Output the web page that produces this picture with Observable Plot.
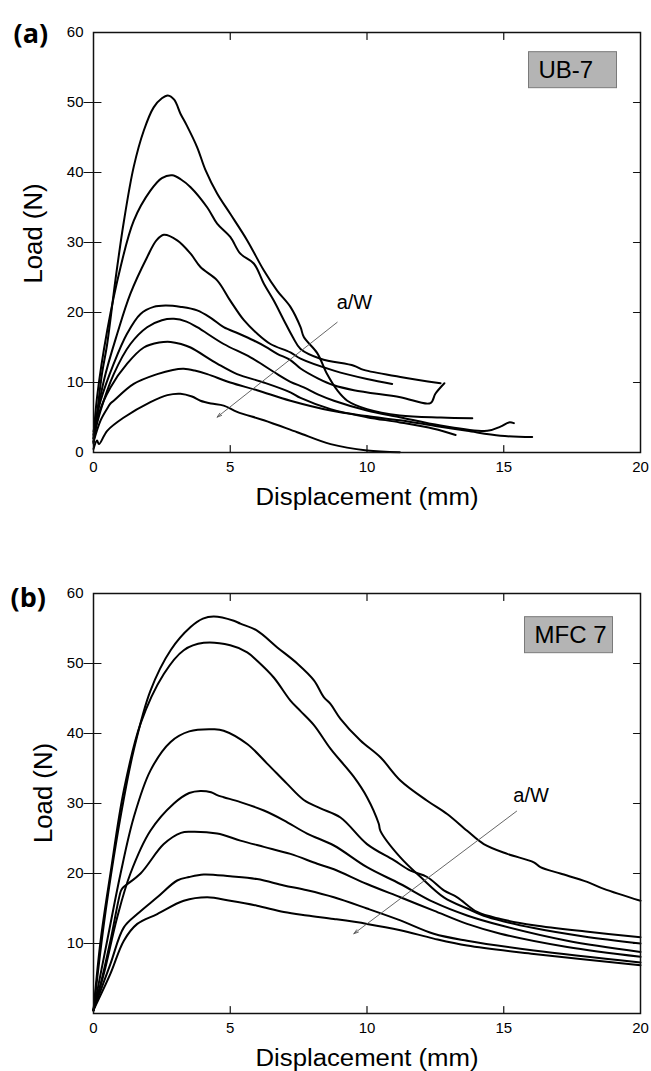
<!DOCTYPE html>
<html><head><meta charset="utf-8">
<script src="https://cdn.jsdelivr.net/npm/d3@7"></script>
<script src="https://cdn.jsdelivr.net/npm/@observablehq/plot@0.6"></script>
<style>
body{margin:0;background:#fff;}
#chart{width:651px;}
svg{display:block;}
</style></head><body><div id="chart"></div>
<script>
// ---- axis ticks ----
const xTicks = [0, 5, 10, 15, 20];
const xInnerTicks = [5, 10, 15];
const yTicksA = [0, 10, 20, 30, 40, 50, 60];
const yTicksB = [10, 20, 30, 40, 50, 60];
const yInnerTicks = [10, 20, 30, 40, 50];

// ---- texts ----
const xTitle = "Displacement (mm)";
const yTitle = "Load (N)";
const tagA = "(a)", tagB = "(b)";
const boxA = "UB-7", boxB = "MFC 7";

// ---- annotations (data units) ----
const awA = [{x: 9.54, y: 21.4, text: "a/W"}];
const awB = [{x: 16.0, y: 31.1, text: "a/W"}];
const arrowA = [{x1: 8.91, y1: 18.6, x2: 4.52, y2: 5.05}];
const arrowB = [{x1: 15.47, y1: 28.9, x2: 9.52, y2: 11.4}];

// ---- panel (a) UB-7 curves: [displacement mm, load N] ----
const ub1 = [[0,1.3],[0.13,5.5],[0.3,11],[0.5,15.5],[0.8,24.6],[1.11,33],[1.47,40.8],[1.84,46],[2.2,49.3],[2.5,50.6],[2.72,51.0],[2.95,50.4],[3.18,48.4],[3.4,46.8],[3.79,43.6],[4.1,40.3],[4.52,37],[5.0,34.1],[5.62,30.3],[6.23,26],[6.72,23.1],[7.2,20.8],[7.57,17.9],[7.69,16.5],[8.18,14.2],[8.54,11.2],[8.91,8.9],[9.28,7.4],[10.0,6.2],[11.2,5.3],[12.7,5.0],[13.85,4.9]];
const ub2 = [[0,2],[0.13,7.9],[0.5,17.4],[0.99,26.5],[1.47,33.1],[2.08,37.4],[2.5,39.2],[2.88,39.6],[3.2,39.0],[3.55,37.9],[4.16,35],[4.52,32.7],[5.0,30.8],[5.37,28.4],[5.86,27],[6.23,24.1],[6.59,21.7],[6.96,18.9],[7.3,16.4],[7.57,14.8],[8.3,13.4],[9.52,12.4],[9.88,11.8],[11.22,10.8],[12.69,9.9]];
const ub3 = [[0,2.5],[0.38,10.3],[0.87,17],[1.35,22.7],[1.96,27.9],[2.3,30.3],[2.57,31.1],[3.06,30.3],[3.55,28.4],[3.91,26.5],[4.52,24.6],[5.0,21.7],[5.5,18.9],[5.98,17.0],[6.47,15.5],[7.2,14.3],[7.57,13.4],[8.79,11.7],[10.0,10.5],[10.92,9.8]];
const ub4 = [[0,3],[0.26,7.4],[0.74,12.7],[1.23,17],[1.72,19.8],[2.2,20.8],[2.63,21.0],[3.2,20.8],[3.79,20.3],[4.3,19.2],[4.76,17.9],[5.3,17.0],[5.86,16.0],[6.3,15.1],[6.72,14.1],[7.2,13.2],[7.57,12.0],[8.2,10.6],[8.79,9.6],[9.52,8.9],[11.22,7.9],[12.32,7.05],[12.5,8.4],[12.83,9.9]];
const ub5 = [[0,2],[0.26,6.0],[0.74,11.2],[1.35,15.5],[1.96,17.9],[2.5,18.9],[2.94,19.1],[3.4,18.7],[3.79,17.9],[4.76,15.5],[5.74,13.6],[6.72,11.2],[7.2,10.1],[7.69,9.3],[8.2,8.3],[8.79,7.4],[10.0,6.0],[11.2,5.05],[12.69,3.86],[14.4,3.1],[14.88,3.7],[15.19,4.3],[15.37,4.2]];
const ub6 = [[0,1.5],[0.19,5.5],[0.62,9.3],[1.23,12.7],[1.84,15.0],[2.4,15.7],[2.82,15.8],[3.2,15.5],[3.55,15.0],[4.52,12.7],[5.25,11.2],[6.23,10.0],[7.2,8.6],[7.57,7.8],[8.67,6.2],[10.0,5.05],[11.2,4.3],[12.44,3.38],[13.24,2.5]];
const ub7 = [[0,1.5],[0.26,4.6],[0.55,6.6],[0.62,7.0],[0.74,7.4],[1.47,9.8],[2.33,11.2],[2.9,11.8],[3.3,11.95],[3.7,11.7],[4.16,11.2],[5.0,10.0],[5.98,8.9],[7.2,7.4],[8.67,6.0],[10.0,5.2],[11.2,4.6],[12.5,3.8],[13.66,3.1],[14.88,2.4],[16.04,2.2]];
const ub8 = [[0,0.5],[0.13,1.7],[0.2,1.2],[0.5,3.1],[1.11,5.0],[2.08,7.2],[2.7,8.2],[3.18,8.4],[3.6,8.0],[3.91,7.4],[4.3,7.0],[4.76,6.7],[5.25,5.8],[6.23,4.6],[7.45,2.9],[8.67,1.2],[10.0,0.3],[11.2,0.05]];

// ---- panel (b) MFC 7 curves ----
const mfc1 = [[0,0.4],[0.38,12.8],[0.74,22.3],[1.1,30.5],[1.47,37.6],[2.08,46.1],[2.82,51.9],[3.55,55.2],[4.0,56.4],[4.4,56.7],[5.13,56.1],[5.37,55.7],[5.98,54.7],[6.72,52.3],[7.45,50],[8.06,47.6],[8.42,45.2],[8.67,44.2],[9.03,42.1],[9.76,39],[10.49,36.6],[11.22,33.3],[12.2,30.4],[12.93,28.5],[13.66,26.1],[14.27,24.2],[15.13,22.8],[16.1,21.6],[16.34,20.9],[17.07,20],[18.05,18.8],[18.66,17.8],[20,16.1]];
const mfc2 = [[0,0.4],[0.26,10.4],[0.62,20],[1.11,31.9],[1.72,41.4],[2.57,48.5],[3.3,51.9],[4.03,52.95],[5.0,52.6],[5.62,51.6],[5.98,50.4],[6.59,48.0],[7.2,44.7],[7.57,43.2],[8.06,41.2],[8.67,37.8],[9.52,33.8],[10.0,30.9],[10.43,27.1],[10.49,26.1],[11.22,22.3],[11.96,19.5],[12.81,16.6],[13.66,15.0],[14.39,13.8],[16.1,12.2],[17.93,11.0],[20,10.0]];
const mfc3 = [[0,0.5],[0.5,10.4],[0.99,20],[1.47,28],[2.08,34.7],[2.82,38.8],[3.5,40.3],[4.4,40.6],[4.76,40.4],[5.62,38.5],[6.35,35.7],[7.08,32.8],[7.69,30.5],[8.3,29.3],[9.03,28],[10.0,24.2],[10.98,21.9],[11.59,20.4],[12.2,19.5],[12.81,17.6],[13.3,16.6],[14.03,14.5],[14.88,13.5],[16.1,12.6],[18,11.7],[20,10.9]];
const mfc4 = [[0,0.5],[0.38,5.7],[0.87,13.8],[1.35,20],[2.08,26.1],[2.94,30],[3.5,31.5],[3.91,31.8],[4.3,31.6],[4.52,31.2],[4.76,30.9],[5.37,30.2],[6.23,29],[6.96,27.6],[7.81,25.7],[8.79,24.0],[10.0,20.9],[11.22,18.5],[12.44,15.9],[13.66,14.0],[14.88,12.6],[17.32,10.4],[20,8.8]];
const mfc5 = [[0,0.5],[0.26,4.2],[0.62,10.4],[1.0,17.5],[1.06,17.9],[1.72,20],[2.57,24.2],[3.2,25.8],[3.55,25.95],[4.52,25.7],[5.37,24.7],[6.23,23.8],[7.2,22.8],[8.18,21.4],[8.79,20.6],[10.0,18.5],[11.22,16.6],[12.44,14.7],[13.66,12.8],[14.88,11.4],[17.32,9.5],[20,8.1]];
const mfc6 = [[0,0.5],[0.62,7.1],[1.11,12.3],[1.6,14.2],[2.33,16.6],[3.06,19],[3.5,19.5],[4.03,19.86],[5.0,19.6],[5.98,19.2],[6.96,18.3],[7.81,17.6],[8.79,16.6],[10.0,15.0],[11.22,13.3],[12.44,11.4],[13.66,10.4],[16.1,9.0],[20,7.3]];
const mfc7 = [[0,0.5],[0.62,5.7],[1.11,10.4],[1.6,12.8],[2.33,14.2],[3.3,16.1],[4.16,16.6],[5.0,16.1],[5.98,15.4],[6.96,14.5],[7.81,14.0],[8.79,13.5],[10.0,12.8],[11.22,11.9],[12.44,10.7],[13.66,9.7],[16.1,8.5],[20,6.9]];

// ---- build tables ----
const rows = (list) => list.flatMap((arr, i) => arr.map(([d, L]) => ({d, L, id: i})));
const rowsA = rows([ub1, ub2, ub3, ub4, ub5, ub6, ub7, ub8]);
const rowsB = rows([mfc1, mfc2, mfc3, mfc4, mfc5, mfc6, mfc7]);

const tickShape = {draw(context, l) { context.moveTo(0, 0); context.lineTo(0, -l); }};
const FONT = "'Liberation Sans', Arial, sans-serif";

function panel(o) {
  const tk = {stroke: "#111", strokeWidth: 1.2, shape: tickShape};
  return Plot.plot({
    width: 651, height: o.height,
    marginLeft: 93, marginRight: 11, marginTop: o.mt, marginBottom: o.mb,
    x: {domain: [0, 20]}, y: {domain: [0, 60]},
    style: {fontFamily: FONT, fontSize: "15px", color: "#000", background: "#fff", overflow: "visible"},
    marks: [
      Plot.axisX(xTicks, {tickSize: 0, tickPadding: 9, label: null, fontSize: 15}),
      Plot.axisY(o.yTicks, {tickSize: 0, tickPadding: 10, label: null, fontSize: 15}),
      Plot.vector(xInnerTicks, {...tk, x: d => d, y: 0, length: 7, rotate: 0, anchor: "start"}),
      Plot.vector(xInnerTicks, {...tk, x: d => d, y: 60, length: 7, rotate: 180, anchor: "start"}),
      Plot.vector(yInnerTicks, {...tk, x: 20, y: d => d, length: 7, rotate: 270, anchor: "start"}),
      Plot.vector(yInnerTicks, {...tk, x: 0, y: d => d, length: 17, rotate: 90, anchor: "middle", dx: -1}),
      Plot.line(o.rows, {x: "d", y: "L", z: "id", curve: "catmull-rom", stroke: "#000", strokeWidth: 2}),
      Plot.arrow(o.arrow, {x1: "x1", y1: "y1", x2: "x2", y2: "y2", stroke: "#555", strokeWidth: 0.9, headLength: 8, headAngle: 35}),
      Plot.text(o.aw, {x: "x", y: "y", text: "text", fontSize: 20}),
      Plot.frame({stroke: "#111", strokeWidth: 1.5}),
      Plot.text([xTitle], {text: d => d, frameAnchor: "bottom", lineAnchor: "top", dy: o.xtDy, fontSize: 23.5}),
      Plot.text([yTitle], {text: d => d, frameAnchor: "left", textAnchor: "middle", lineAnchor: "middle", rotate: -90, dx: o.ytDx, dy: o.ytDy, fontSize: 26}),
      Plot.text([o.tag], {text: d => d, frameAnchor: "top-left", textAnchor: "start", lineAnchor: "middle", dx: o.tagDx, dy: o.tagDy, fontSize: 27, fontWeight: "bold", fontFamily: "'Open Sans', 'Noto Sans', sans-serif"}),
      Plot.text([o.box], {text: d => d, frameAnchor: "top-right", textAnchor: "start", lineAnchor: "middle", dx: o.boxDx, dy: o.boxDy, fontSize: 24})
    ]
  });
}

function findText(svg, content) {
  return Array.from(svg.querySelectorAll("text")).find(t => t.textContent === content) || null;
}

function finish(svg, boxLabel) {
  // stretch titles to the reference's lengths
  const xt = findText(svg, xTitle);
  if (xt) { xt.setAttribute("textLength", 223); xt.setAttribute("lengthAdjust", "spacingAndGlyphs"); }
  const yt = findText(svg, yTitle);
  if (yt) { yt.setAttribute("textLength", 100); yt.setAttribute("lengthAdjust", "spacingAndGlyphs"); }
  // grey box behind the specimen label
  const t = findText(svg, boxLabel);
  if (!t) return;
  const s = svg.getBoundingClientRect();
  const b = t.getBoundingClientRect();
  const x = b.left - s.left, cy = (b.top + b.bottom) / 2 - s.top;
  const r = document.createElementNS("http://www.w3.org/2000/svg", "rect");
  r.setAttribute("x", x - 10);
  r.setAttribute("y", cy - 18);
  r.setAttribute("width", 88);
  r.setAttribute("height", 36);
  r.setAttribute("fill", "#b4b4b4");
  r.setAttribute("stroke", "#7a7a7a");
  r.setAttribute("stroke-width", 1);
  let g = t;
  while (g.parentNode && g.parentNode !== svg) g = g.parentNode;
  svg.insertBefore(r, g);
}

const root = document.getElementById("chart");
const svgA = panel({height: 520, mt: 32, mb: 68, yTicks: yTicksA, rows: rowsA, arrow: arrowA, aw: awA,
  tag: tagA, box: boxA, xtDy: 36, ytDx: -60, ytDy: -9, tagDx: -80, tagDy: 1.5, boxDx: -102, boxDy: 38});
root.append(svgA); finish(svgA, boxA);
const svgB = panel({height: 551, mt: 73, mb: 58, yTicks: yTicksB, rows: rowsB, arrow: arrowB, aw: awB,
  tag: tagB, box: boxB, xtDy: 36, ytDx: -50, ytDy: -10.5, tagDx: -83, tagDy: 4.5, boxDx: -106, boxDy: 42});
root.append(svgB); finish(svgB, boxB);
</script></body></html>
